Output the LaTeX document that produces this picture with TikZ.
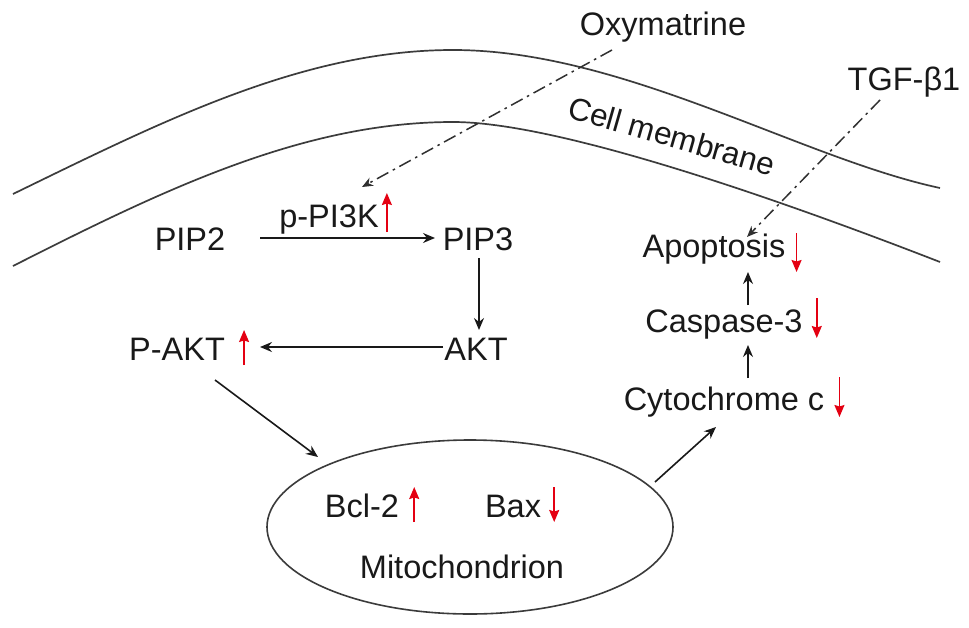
\documentclass[tikz,border=0pt]{standalone}
\usepackage{fontspec}
\setmainfont{Liberation Sans}
\usetikzlibrary{arrows.meta,calc}
\definecolor{txt}{RGB}{25,25,25}
\definecolor{upred}{RGB}{228,0,18}
\begin{document}
\begin{tikzpicture}[x=1pt,y=-1pt,
  lbl/.style={font=\fontsize{32.5}{38}\selectfont, text=txt, inner sep=0pt, anchor=base},
  memb/.style={draw=txt!85, line width=1.7pt},
  arr/.style={draw=txt, line width=1.6pt, -{Stealth[length=12pt,width=10pt,inset=4pt]}},
  ddarr/.style={draw=txt!90, line width=1.5pt, dash pattern=on 13pt off 5pt on 2.5pt off 5pt,
     -{Stealth[length=11pt,width=9pt,inset=3.5pt]}},
  redarr/.style={draw=upred, line width=1.5pt, -{Stealth[length=12pt,width=10pt,inset=1.5pt]}}]
\useasboundingbox (0,0) rectangle (969,627);
\fill[white] (0,0) rectangle (969,627);

% membranes
\draw[memb] (13,194) .. controls (163,121) and (303,50) .. (453,50)
   .. controls (623,50) and (800,158) .. (940,188);
\draw[memb] (13,266) .. controls (163,190) and (303,122) .. (453,122)
   .. controls (553,122) and (760,192) .. (940,262);
\node[lbl, anchor=center, rotate=-16, font=\fontsize{31.5}{36}\selectfont] (cm) at (672,136) {Cell membrane};

% texts
\node[lbl] (oxy) at (663,35) {Oxymatrine};
\node[lbl] (tgf) at (904,90) {TGF-β1};
\node[lbl] (pip2) at (190,250) {PIP2};
\node[lbl] (pk) at (329,227) {p-PI3K};
\node[lbl] (pip3) at (478,250) {PIP3};
\node[lbl] (akt) at (476,360) {AKT};
\node[lbl] (pakt) at (177,360) {P-AKT};
\node[lbl] (bcl) at (362,517) {Bcl-2};
\node[lbl] (bax) at (513,517) {Bax};
\node[lbl] (mtext) at (462,578) {Mitochondrion};
\node[lbl] (apo) at (714,257) {Apoptosis};
\node[lbl] (casp) at (724,332) {Caspase-3};
\node[lbl] (cyt) at (724,410) {Cytochrome c};

% mitochondrion
\draw[txt!85, line width=1.6pt] (470,527) coordinate (mito) ellipse [x radius=203, y radius=87];

% red indicator arrows
\draw[redarr] ($(pk.base east)+(8,5)$) -- ++(0,-39);
\draw[redarr] ($(pakt.base east)+(19,5)$) -- ++(0,-35);
\draw[redarr] ($(bcl.base east)+(15,5)$) -- ++(0,-35);
\draw[redarr] ($(bax.base east)+(13,-30)$) -- ++(0,35);
\draw[redarr] ($(apo.base east)+(11,-24)$) -- ++(0,39);
\draw[redarr] ($(casp.base east)+(14,-34)$) -- ++(0,40);
\draw[redarr] ($(cyt.base east)+(15,-33)$) -- ++(0,40);

% pathway arrows
\draw[arr] ($(pip2.base)+(70,-12)$) -- ($(pip3.base)+(-43,-12)$);
\draw[arr] ($(pip3.base)+(1,8)$) -- ($(akt.base)+(3,-30)$);
\draw[arr] ($(akt.base)+(-33,-13)$) -- ($(pakt.base)+(83,-13)$);
\draw[arr] ($(pakt.base)+(38,20)$) -- ($(mito)+(-152,-70)$);
\draw[arr] ($(mito)+(185,-45)$) -- ($(cyt.base)+(-8,17)$);
\draw[arr] ($(cyt.base)+(24,-32)$) -- ($(casp.base)+(24,13)$);
\draw[arr] ($(casp.base)+(24,-27)$) -- ($(apo.base)+(34,15)$);

% dash-dot arrows
\draw[ddarr] ($(oxy.base)+(-51,15)$) -- ($(pk.base)+(33,-40)$);
\draw[ddarr] ($(tgf.base)+(-24,10)$) -- ($(apo.base)+(33,-20)$);
\end{tikzpicture}
\end{document}
